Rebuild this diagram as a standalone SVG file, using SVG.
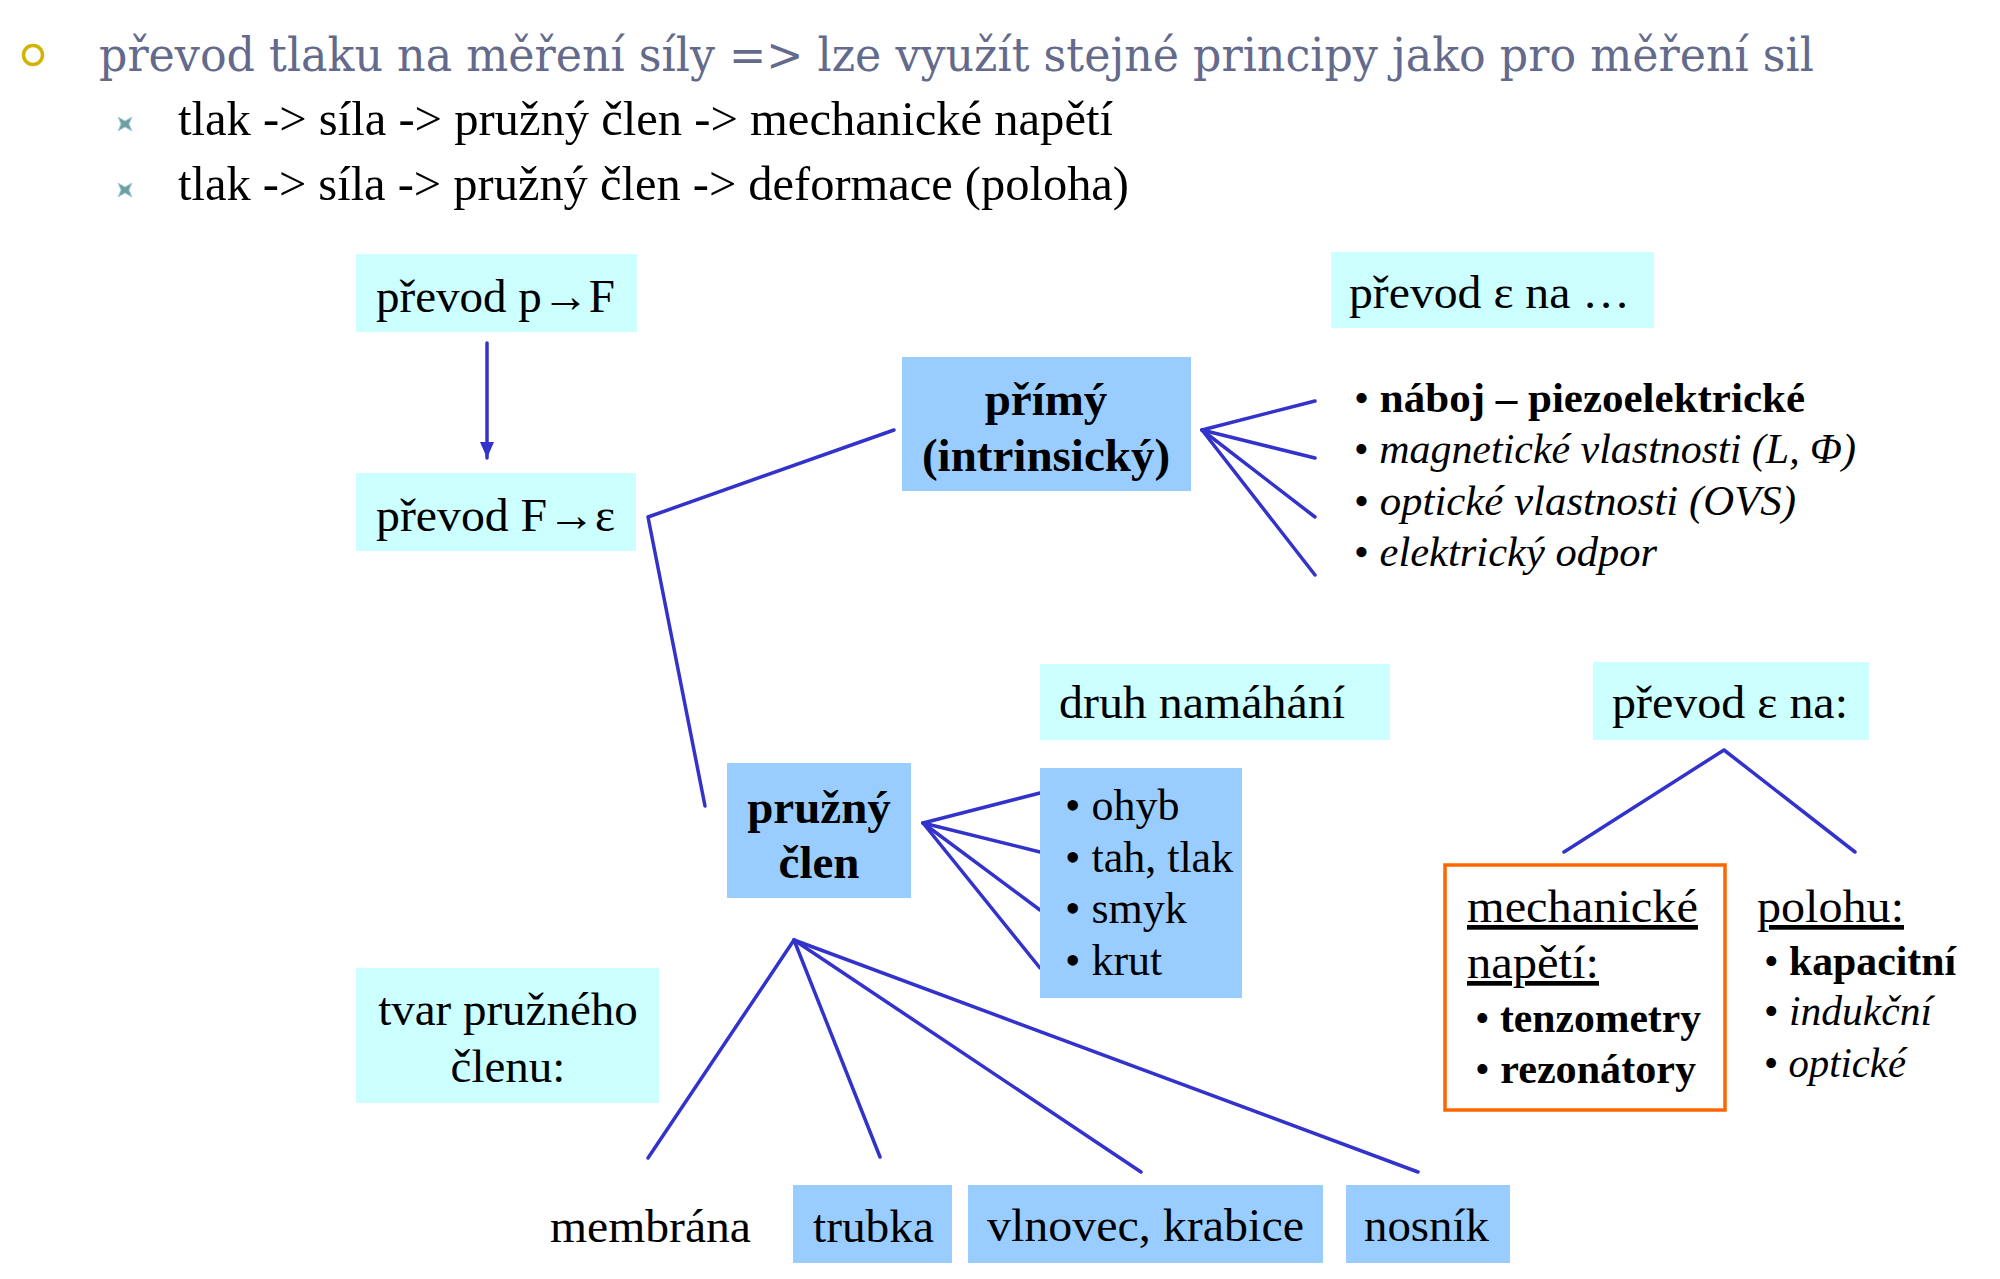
<svg xmlns="http://www.w3.org/2000/svg" width="2000" height="1279" viewBox="0 0 2000 1279">
  <style>
    text { font-family: "Liberation Serif", "Times New Roman", serif; fill: #000; }
    .head { font-family: "DejaVu Serif", serif; font-size: 46px; fill: #646a8c; }
    .sub { font-size: 48px; }
    .t47 { font-size: 47px; }
    .b47 { font-size: 47px; font-weight: bold; }
    .l42 { font-size: 42px; }
    .l44 { font-size: 44px; }
    .l43 { font-size: 43px; }
    .it { font-style: italic; }
    .bd { font-weight: bold; }
    .u { text-decoration: underline; }
    .cyan { fill: #ccffff; }
    .blue { fill: #99ccff; }
    .conn { fill: none; stroke: #3333cc; stroke-width: 3.5; stroke-linecap: round; stroke-linejoin: round; }
    .star { fill: #6f9e9e; stroke: #a9d3e3; stroke-width: 1; }
  </style>
  <defs>
    <marker id="arrowhead" viewBox="0 0 16 14" refX="16" refY="7" markerWidth="16" markerHeight="14" markerUnits="userSpaceOnUse" orient="auto">
      <path d="M0,0 L16,7 L0,14 Z" fill="#3333cc"/>
    </marker>
  </defs>
  <rect width="2000" height="1279" fill="#ffffff"/>

  <!-- heading bullets -->
  <g id="intro">
    <circle cx="33" cy="55" r="9.5" fill="none" stroke="#d2b400" stroke-width="3.5"/>
    <text class="head" x="99" y="71" textLength="1715" lengthAdjust="spacingAndGlyphs">převod tlaku na měření síly =&gt; lze využít stejné principy jako pro měření sil</text>
    <polygon class="star" points="118,117 125,121 132,117 129,124 132,131 125,127 118,131 121,124"/>
    <text class="sub" x="178" y="135" textLength="935" lengthAdjust="spacingAndGlyphs">tlak -&gt; síla -&gt; pružný člen -&gt; mechanické napětí</text>
    <polygon class="star" points="118,183 125,187 132,183 129,190 132,197 125,193 118,197 121,190"/>
    <text class="sub" x="178" y="200" textLength="951" lengthAdjust="spacingAndGlyphs">tlak -&gt; síla -&gt; pružný člen -&gt; deformace (poloha)</text>
  </g>

  <!-- connectors -->
  <g id="connectors">
    <line class="conn" x1="487" y1="343" x2="487" y2="458" marker-end="url(#arrowhead)"/>
    <polyline class="conn" points="705,806 648,517 894,430"/>
    <line class="conn" x1="1202" y1="430" x2="1315" y2="401"/>
    <line class="conn" x1="1202" y1="430" x2="1315" y2="458"/>
    <line class="conn" x1="1202" y1="430" x2="1315" y2="517"/>
    <line class="conn" x1="1202" y1="430" x2="1315" y2="575"/>
    <line class="conn" x1="923" y1="823" x2="1040" y2="793"/>
    <line class="conn" x1="923" y1="823" x2="1040" y2="852"/>
    <line class="conn" x1="923" y1="823" x2="1040" y2="910"/>
    <line class="conn" x1="923" y1="823" x2="1040" y2="968"/>
    <line class="conn" x1="794" y1="940" x2="648" y2="1158"/>
    <line class="conn" x1="794" y1="940" x2="880" y2="1157"/>
    <line class="conn" x1="794" y1="940" x2="1141" y2="1172"/>
    <line class="conn" x1="794" y1="940" x2="1418" y2="1172"/>
    <polyline class="conn" points="1564,852 1724,750 1855,852"/>
  </g>

  <g id="prevod-p-F">
    <rect class="cyan" x="356" y="254" width="281" height="78"/>
    <text class="t47" x="376" y="312" textLength="239" lengthAdjust="spacingAndGlyphs">převod p→F</text>
  </g>

  <g id="prevod-F-eps">
    <rect class="cyan" x="356" y="473" width="280" height="78"/>
    <text class="t47" x="376" y="531" textLength="239" lengthAdjust="spacingAndGlyphs">převod F→ε</text>
  </g>

  <g id="primy">
    <rect class="blue" x="902" y="357" width="289" height="134"/>
    <text class="b47" x="1046" y="415" text-anchor="middle">přímý</text>
    <text class="b47" x="1046" y="471" text-anchor="middle">(intrinsický)</text>
  </g>

  <g id="prevod-eps-na-dots">
    <rect class="cyan" x="1331" y="252" width="323" height="76"/>
    <text class="t47" x="1349" y="308" textLength="281" lengthAdjust="spacingAndGlyphs">převod ε na …</text>
  </g>

  <g id="principy">
    <text class="l42" x="1354" y="412" textLength="451" lengthAdjust="spacingAndGlyphs">• <tspan class="bd">náboj – piezoelektrické</tspan></text>
    <text class="l42" x="1354" y="463" textLength="502" lengthAdjust="spacingAndGlyphs">• <tspan class="it">magnetické vlastnosti (L, Φ)</tspan></text>
    <text class="l42" x="1354" y="515" textLength="442" lengthAdjust="spacingAndGlyphs">• <tspan class="it">optické vlastnosti (OVS)</tspan></text>
    <text class="l42" x="1354" y="566" textLength="303" lengthAdjust="spacingAndGlyphs">• <tspan class="it">elektrický odpor</tspan></text>
  </g>

  <g id="druh-namahani">
    <rect class="cyan" x="1040" y="664" width="350" height="76"/>
    <text class="t47" x="1059" y="718" textLength="286" lengthAdjust="spacingAndGlyphs">druh namáhání</text>
  </g>

  <g id="prevod-eps-na">
    <rect class="cyan" x="1593" y="662" width="276" height="78"/>
    <text class="t47" x="1612" y="718" textLength="236" lengthAdjust="spacingAndGlyphs">převod ε na:</text>
  </g>

  <g id="pruzny-clen">
    <rect class="blue" x="727" y="763" width="184" height="135"/>
    <text class="b47" x="819" y="823" text-anchor="middle">pružný</text>
    <text class="b47" x="819" y="878" text-anchor="middle">člen</text>
  </g>

  <g id="namahani">
    <rect class="blue" x="1040" y="768" width="202" height="230"/>
    <text class="l44" x="1065" y="820">• ohyb</text>
    <text class="l44" x="1065" y="872">• tah, tlak</text>
    <text class="l44" x="1065" y="923">• smyk</text>
    <text class="l44" x="1065" y="975">• krut</text>
  </g>

  <g id="tvar">
    <rect class="cyan" x="356" y="968" width="303" height="135"/>
    <text class="t47" x="508" y="1025" text-anchor="middle">tvar pružného</text>
    <text class="t47" x="508" y="1082" text-anchor="middle">členu:</text>
  </g>

  <g id="membrana">
    <text class="t47" x="550" y="1242" textLength="201" lengthAdjust="spacingAndGlyphs">membrána</text>
  </g>

  <g id="trubka">
    <rect class="blue" x="793" y="1185" width="159" height="78"/>
    <text class="t47" x="813" y="1242" textLength="121" lengthAdjust="spacingAndGlyphs">trubka</text>
  </g>

  <g id="vlnovec">
    <rect class="blue" x="968" y="1185" width="355" height="78"/>
    <text class="t47" x="987" y="1241" textLength="317" lengthAdjust="spacingAndGlyphs">vlnovec, krabice</text>
  </g>

  <g id="nosnik">
    <rect class="blue" x="1346" y="1185" width="164" height="78"/>
    <text class="t47" x="1364" y="1241" textLength="125" lengthAdjust="spacingAndGlyphs">nosník</text>
  </g>

  <g id="mechanicke-napeti">
    <rect x="1445" y="865" width="280" height="245" fill="none" stroke="#ff6600" stroke-width="3.5"/>
    <text class="t47 u" x="1467" y="922" textLength="231" lengthAdjust="spacingAndGlyphs">mechanické</text>
    <text class="t47 u" x="1467" y="978" textLength="132" lengthAdjust="spacingAndGlyphs">napětí:</text>
    <text class="l43" x="1475" y="1032" textLength="226" lengthAdjust="spacingAndGlyphs">• <tspan class="bd">tenzometry</tspan></text>
    <text class="l43" x="1475" y="1083" textLength="221" lengthAdjust="spacingAndGlyphs">• <tspan class="bd">rezonátory</tspan></text>
  </g>

  <g id="polohu">
    <text class="t47 u" x="1757" y="922" textLength="147" lengthAdjust="spacingAndGlyphs">polohu:</text>
    <text class="l43" x="1764" y="975" textLength="192" lengthAdjust="spacingAndGlyphs">• <tspan class="bd">kapacitní</tspan></text>
    <text class="l43" x="1764" y="1025" textLength="168" lengthAdjust="spacingAndGlyphs">• <tspan class="it">indukční</tspan></text>
    <text class="l43" x="1764" y="1077" textLength="142" lengthAdjust="spacingAndGlyphs">• <tspan class="it">optické</tspan></text>
  </g>
</svg>
